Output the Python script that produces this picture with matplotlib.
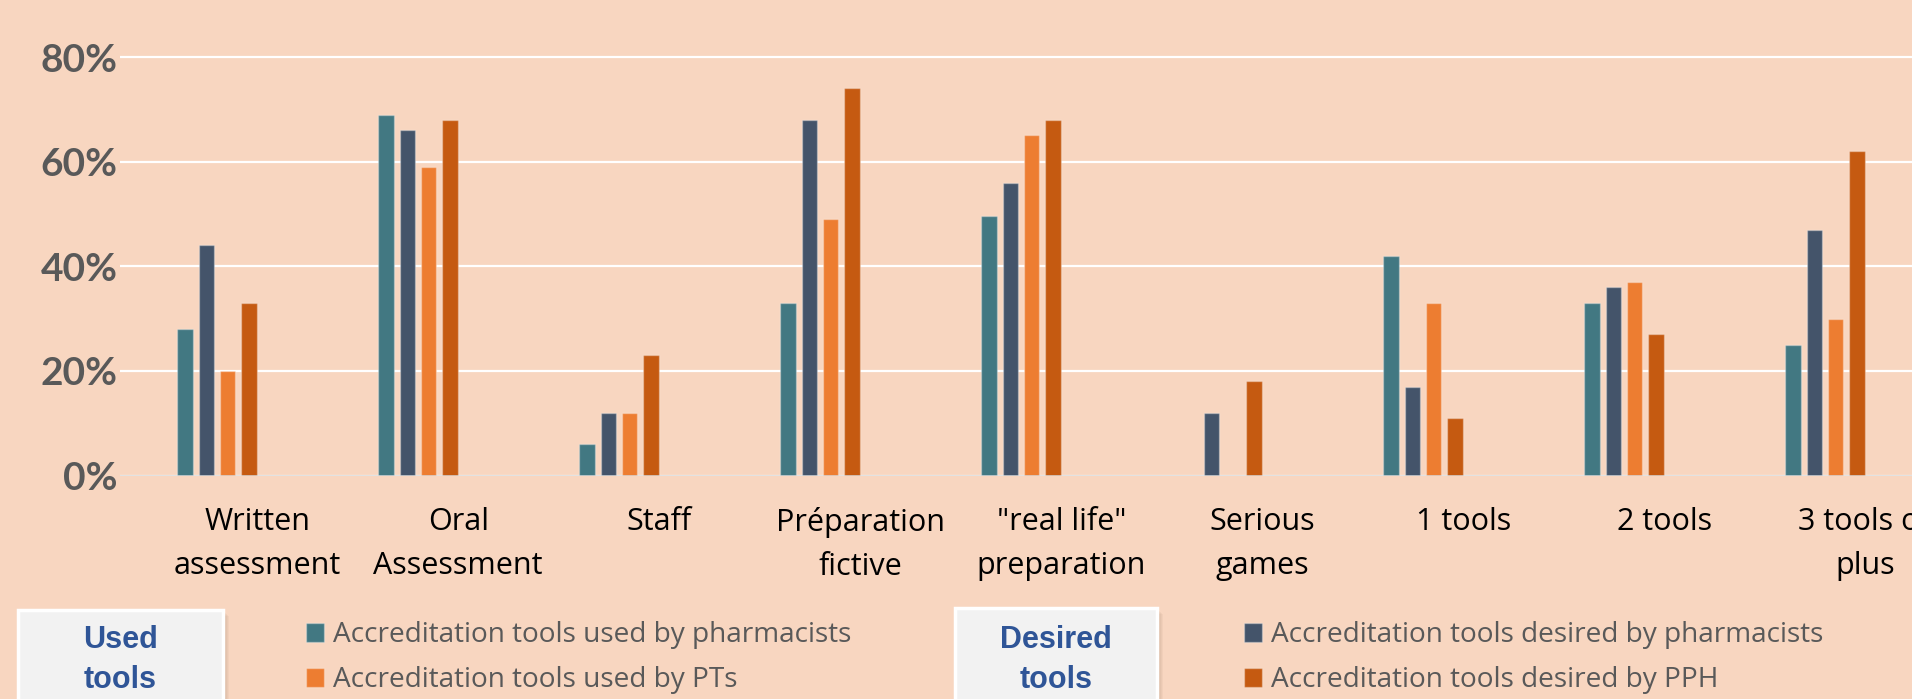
import matplotlib.pyplot as plt
from matplotlib.patches import Rectangle
import numpy as np

# chart values (percent)
categories = ['Written\nassessment', 'Oral\nAssessment', 'Staff', 'Préparation\nfictive',
              '"real life"\npreparation', 'Serious\ngames', '1 tools', '2 tools', '3 tools or\nplus']
used_pharmacists = [28, 69, 6, 33, 49.6, 0, 42, 33, 25]
desired_pharmacists = [44, 66, 12, 68, 56, 12, 17, 36, 47]
used_pts = [20, 59, 12, 49, 65, 0, 33, 37, 30]
desired_pph = [33, 68, 23, 74, 68, 18, 11, 27, 62]
yticks = [0, 20, 40, 60, 80]

series = [
    (used_pharmacists, 'Accreditation tools used by pharmacists', '#427882'),
    (desired_pharmacists, 'Accreditation tools desired by pharmacists', '#44546a'),
    (used_pts, 'Accreditation tools used by PTs', '#ed7d31'),
    (desired_pph, 'Accreditation tools desired by PPH', '#c55a11'),
]

bg = '#f8d6c0'
W, H = 1912, 699

fig = plt.figure(figsize=(W / 100, H / 100), dpi=100, facecolor=bg)
# axes in pixel geometry (right part runs off the figure like the original)
ax = fig.add_axes([119.5 / W, 1 - 475.5 / H, 1810 / W, 421.1 / H])
ax.set_facecolor(bg)

x = np.arange(len(categories))
step = 0.106
width = 0.078
bars = []
for k, (vals, label, color) in enumerate(series):
    b = ax.bar(x + (k - 1.5) * step, vals, width, color=color, label=label,
               edgecolor=(1, 1, 1, 0.3), linewidth=1, zorder=3)
    bars.append(b)

ax.set_xlim((119.5 - 217) / 201, (1929.5 - 217) / 201)
ax.set_ylim(0, 80.5)
ax.set_yticks(yticks)
ax.set_yticklabels([f'{v}%' for v in yticks], fontfamily='Lato', fontweight='bold',
                   fontsize=28, color='#595959')
ax.grid(axis='y', color='white', linewidth=1.6, zorder=0)
ax.axhline(0, color='#d9d9d9', linewidth=1.8, zorder=4)
for s in ax.spines.values():
    s.set_visible(False)

ax.set_xticks(x + 0.2)
ax.set_xticklabels(categories, fontfamily='Open Sans', fontsize=22, color='black',
                   linespacing=1.64)
ax.tick_params(axis='x', length=0, pad=22.5)
ax.tick_params(axis='y', length=0, pad=1.5)

# legends
kw = dict(loc='upper left', bbox_transform=fig.transFigure, frameon=False,
          prop={'family': 'Open Sans', 'size': 20.2}, labelcolor='#595959',
          handlelength=0.65, handleheight=0.65, handletextpad=0.3,
          labelspacing=0.62, borderpad=0, borderaxespad=0)
leg1 = ax.legend([bars[0], bars[2]], [series[0][1], series[2][1]],
                 bbox_to_anchor=(306 / W, 1 - 621 / H), **kw)
ax.add_artist(leg1)
ax.legend([bars[1], bars[3]], [series[1][1], series[3][1]],
          bbox_to_anchor=(1244 / W, 1 - 621 / H), **kw)

# "Used tools" / "Desired tools" boxes
for x0, x1, top, lines in [(18, 223, 610, ['Used', 'tools']),
                           (955, 1157, 608, ['Desired', 'tools'])]:
    for i in range(1, 7):
        fig.patches.append(Rectangle(((x0 + i) / W, -0.1), (x1 - x0) / W,
                                     1 - (top + i) / H + 0.1, transform=fig.transFigure,
                                     facecolor='#7a5a4a', alpha=0.05, edgecolor='none'))
    fig.patches.append(Rectangle((x0 / W, -0.1), (x1 - x0) / W, 1 - top / H + 0.1,
                                 transform=fig.transFigure, facecolor='#f2f2f2',
                                 edgecolor='white', linewidth=2.5))
    cx = (x0 + x1) / 2
    for j, t in enumerate(lines):
        fig.text(cx / W, 1 - (648 + 40 * j) / H, t, ha='center', va='baseline',
                 fontfamily='Liberation Sans', fontweight='bold', fontsize=22,
                 color='#2f5597')

fig.savefig('out.png', dpi=100, facecolor=bg)
